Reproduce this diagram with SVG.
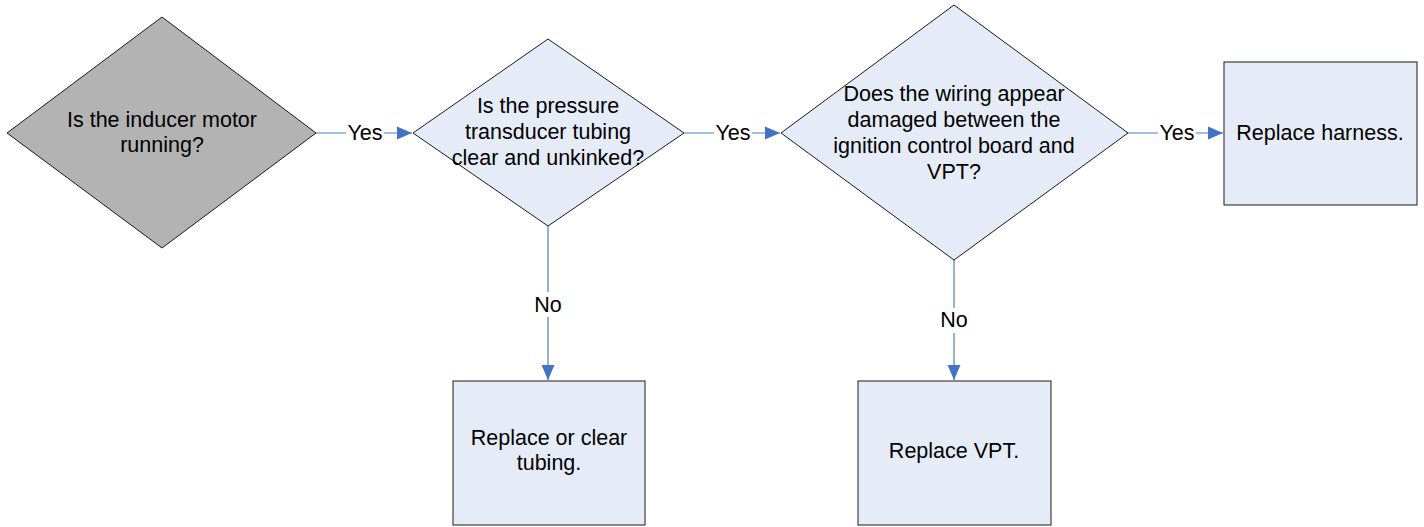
<svg xmlns="http://www.w3.org/2000/svg" width="1424" height="527" viewBox="0 0 1424 527">
  <style>
    .node { fill: #e6ecf7; stroke: #1a1a1a; stroke-width: 1; }
    .gray { fill: #b3b3b3; stroke: #1a1a1a; stroke-width: 1; }
    .t { font-family: "Liberation Sans", Arial, sans-serif; font-size: 21.5px; fill: #000; text-anchor: middle; }
    .conn { stroke: #4a7ebb; stroke-width: 1.2; fill: none; }
    .lblbg { fill: #ffffff; }
  </style>
  <defs>
    <marker id="arrow" markerUnits="userSpaceOnUse" markerWidth="17" markerHeight="15" refX="16" refY="7.5" orient="auto">
      <path d="M1,1 L16,7.5 L1,14 Z" fill="#4472c4"/>
    </marker>
  </defs>
  <rect width="1424" height="527" fill="#ffffff"/>

  <g id="connectors">
    <line class="conn" x1="316" y1="133" x2="412" y2="133" marker-end="url(#arrow)"/>
    <rect class="lblbg" x="346" y="120" width="38" height="26"/>
    <text class="t" x="365" y="140">Yes</text>

    <line class="conn" x1="684" y1="133" x2="780" y2="133" marker-end="url(#arrow)"/>
    <rect class="lblbg" x="714" y="120" width="38" height="26"/>
    <text class="t" x="733" y="140">Yes</text>

    <line class="conn" x1="1128" y1="133" x2="1223" y2="133" marker-end="url(#arrow)"/>
    <rect class="lblbg" x="1158" y="120" width="38" height="26"/>
    <text class="t" x="1177" y="140">Yes</text>

    <line class="conn" x1="548" y1="226" x2="548" y2="380" marker-end="url(#arrow)"/>
    <rect class="lblbg" x="533" y="292" width="30" height="25"/>
    <text class="t" x="548" y="312">No</text>

    <line class="conn" x1="954" y1="260" x2="954" y2="380" marker-end="url(#arrow)"/>
    <rect class="lblbg" x="939" y="308" width="30" height="25"/>
    <text class="t" x="954" y="327">No</text>
  </g>

  <g id="q1">
    <polygon class="gray" points="162,17 316,133 162,248 7,133"/>
    <text class="t" x="162" y="127">Is the inducer motor</text>
    <text class="t" x="162" y="152">running?</text>
  </g>

  <g id="q2">
    <polygon class="node" points="548,39 684,133 548,226 413,133"/>
    <text class="t" x="548" y="113">Is the pressure</text>
    <text class="t" x="548" y="139">transducer tubing</text>
    <text class="t" x="548" y="165">clear and unkinked?</text>
  </g>

  <g id="q3">
    <polygon class="node" points="954,5 1128,133 954,260 781,133"/>
    <text class="t" x="954" y="101">Does the wiring appear</text>
    <text class="t" x="954" y="127">damaged between the</text>
    <text class="t" x="954" y="153">ignition control board and</text>
    <text class="t" x="954" y="179">VPT?</text>
  </g>

  <g id="harness">
    <rect class="node" x="1224" y="62" width="193" height="143"/>
    <text class="t" x="1320" y="140">Replace harness.</text>
  </g>

  <g id="tubing">
    <rect class="node" x="453" y="381" width="192" height="144"/>
    <text class="t" x="549" y="445">Replace or clear</text>
    <text class="t" x="549" y="470">tubing.</text>
  </g>

  <g id="vpt">
    <rect class="node" x="858" y="381" width="193" height="144"/>
    <text class="t" x="954" y="458">Replace VPT.</text>
  </g>
</svg>
